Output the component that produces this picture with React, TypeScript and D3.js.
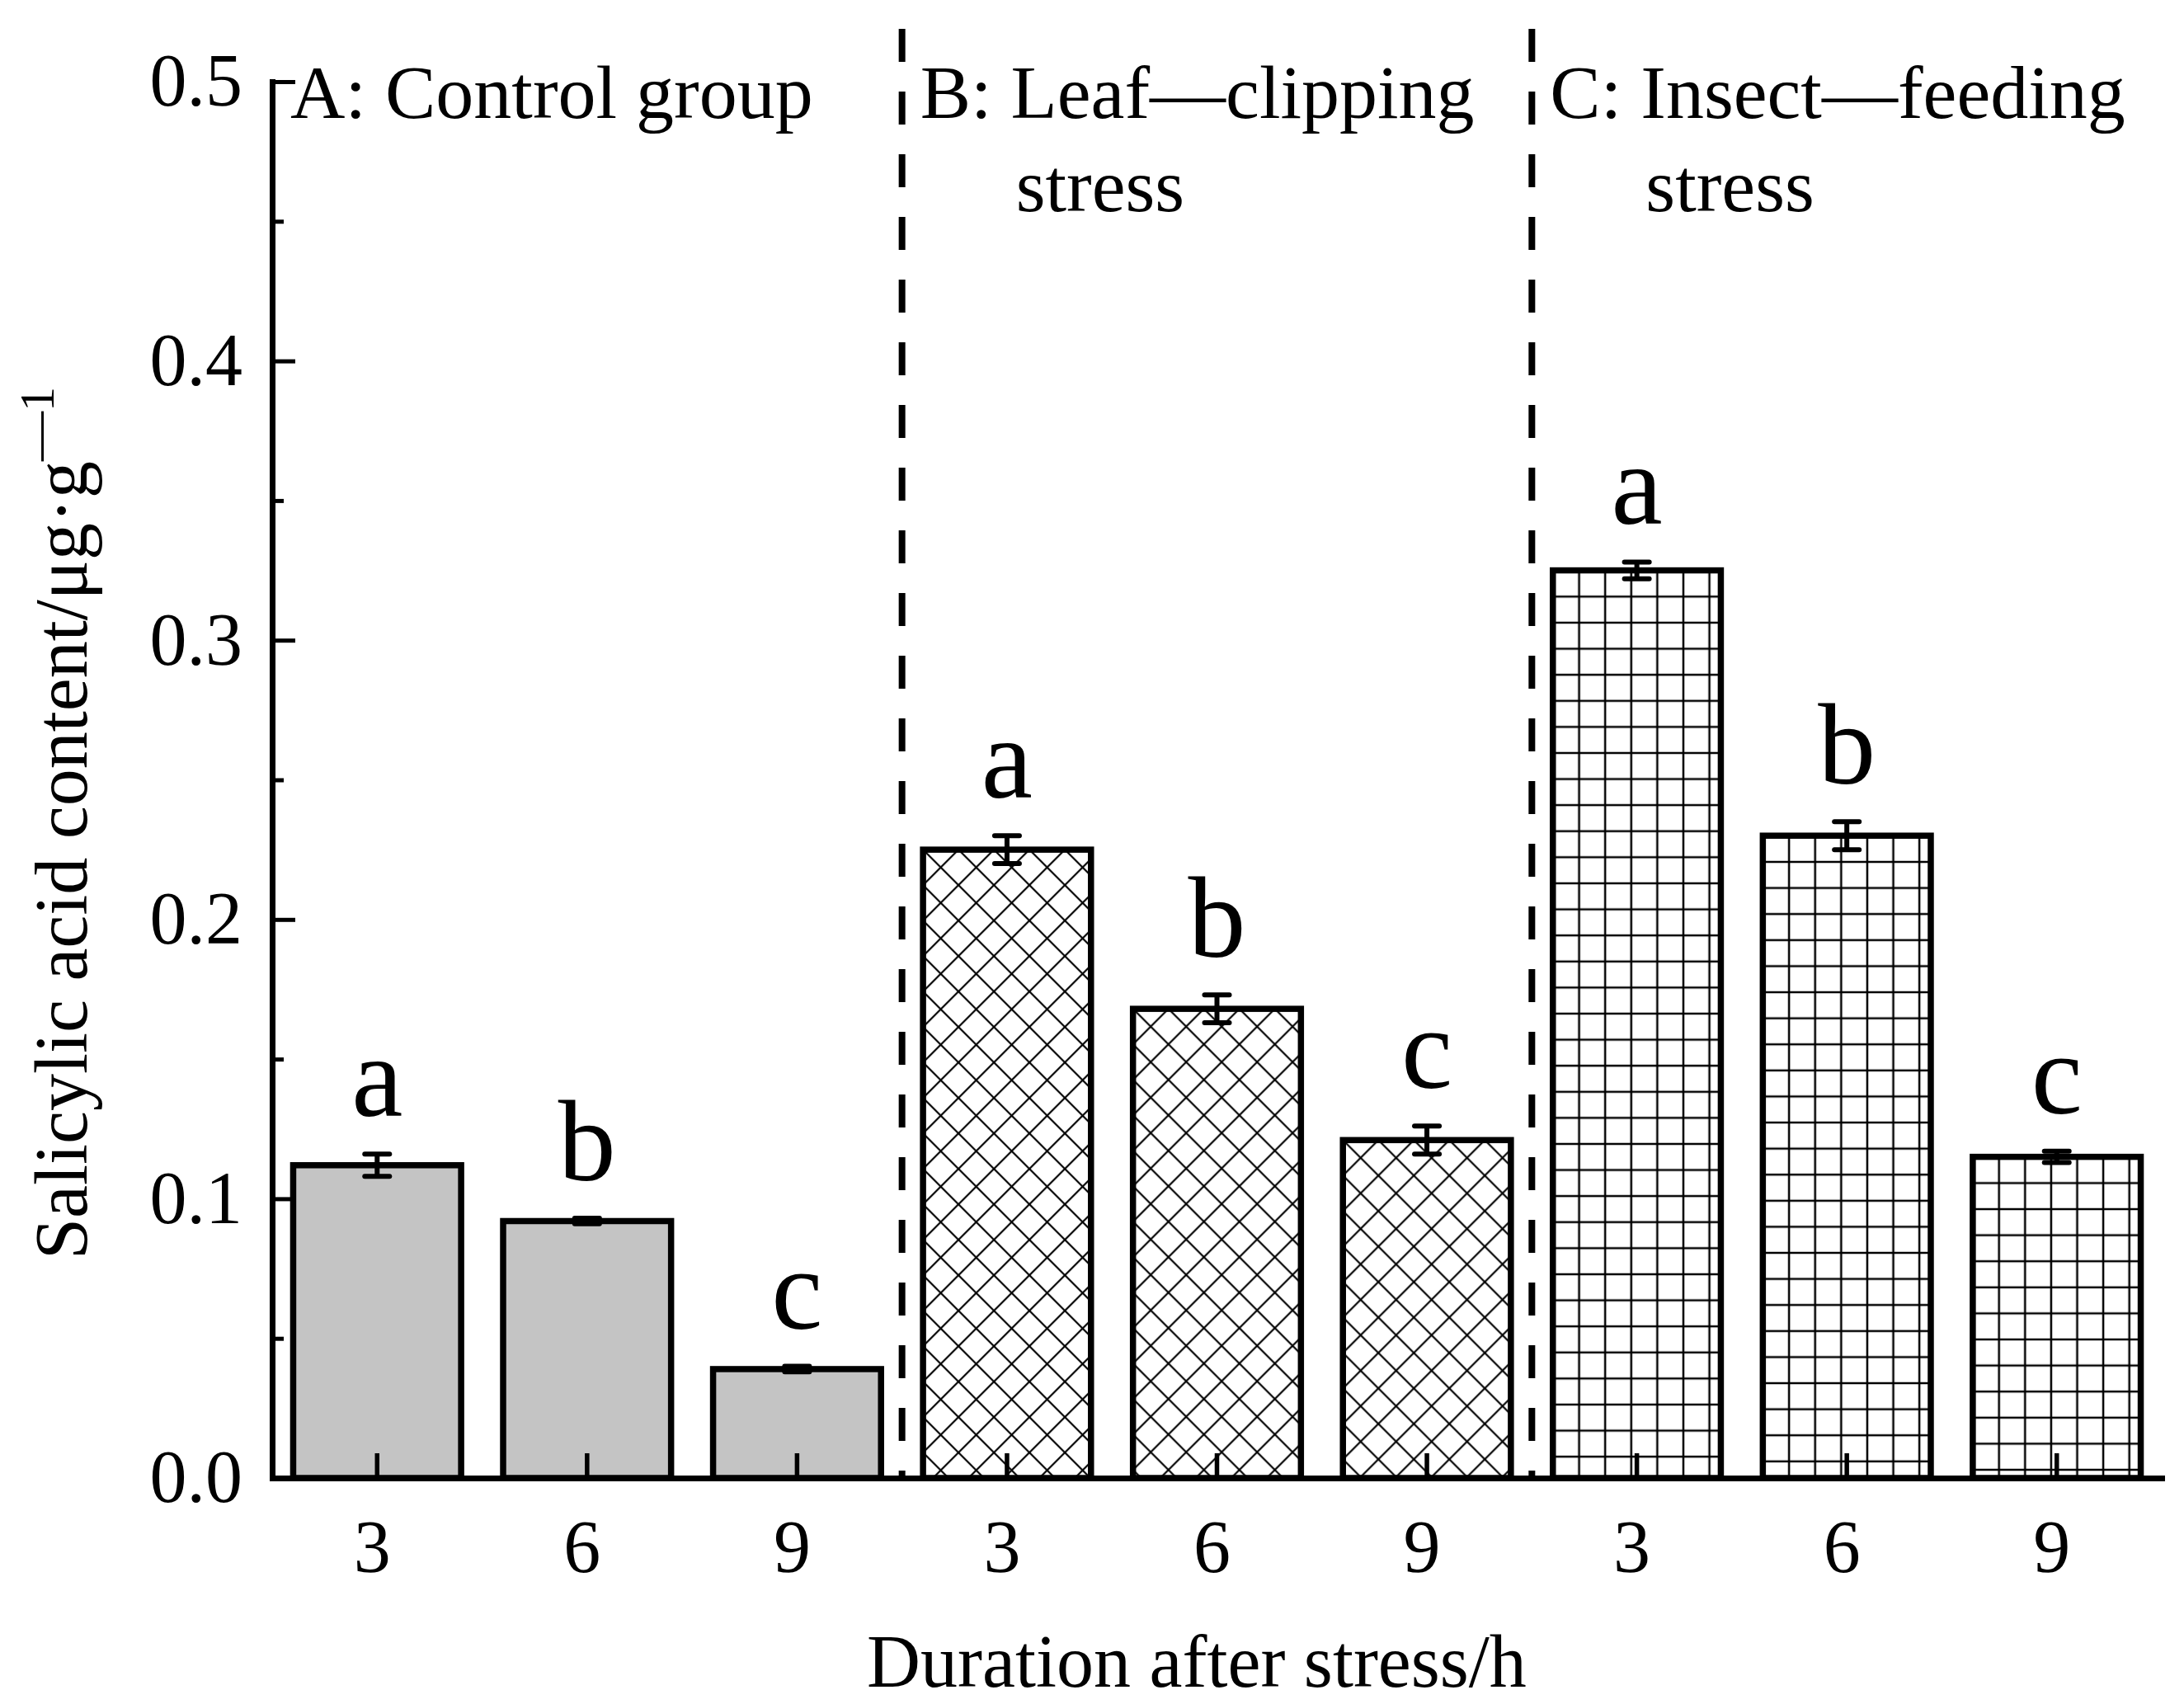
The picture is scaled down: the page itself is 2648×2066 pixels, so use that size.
import React, { useRef, useEffect } from 'react';
import * as d3 from 'd3';

// groups on the x axis and the sampling times inside each group
const groups = ['A', 'B', 'C'];
const hours = ['3', '6', '9'];

// salicylic acid content (µg·g-1)
const controlMeans = [0.112, 0.092, 0.039];
const controlErr = [0.004, 0.001, 0.001];
const clippingMeans = [0.225, 0.168, 0.121];
const clippingErr = [0.005, 0.005, 0.005];
const insectMeans = [0.325, 0.230, 0.115];
const insectErr = [0.003, 0.005, 0.002];

const letters = ['a', 'b', 'c'];
const groupTitles = [
  ['A: Control group'],
  ['B: Leaf\u2014clipping', 'stress'],
  ['C: Insect\u2014feeding', 'stress'],
];

const yMajorTicks = [0, 0.1, 0.2, 0.3, 0.4, 0.5];
const yMinorTicks = [0.05, 0.15, 0.25, 0.35, 0.45];

const W = 2648;
const H = 2066;
const FONT = '"Liberation Serif", "Times New Roman", Times, serif';

const App: React.FC = () => {
  const svgRef = useRef<SVGSVGElement | null>(null);

  useEffect(() => {
    const svg = d3.select(svgRef.current);
    svg.selectAll('*').remove();

    const x0 = 330, x1 = 2621, yBase = 1792, yTop = 99;

    const means = [controlMeans, clippingMeans, insectMeans];
    const errs = [controlErr, clippingErr, insectErr];
    const rows = groups.flatMap((g, gi) =>
      hours.map((h, hi) => ({
        key: `${g}${h}`,
        group: gi,
        hour: h,
        mean: means[gi][hi],
        err: errs[gi][hi],
        letter: letters[hi],
      }))
    );

    const x = d3.scaleBand()
      .domain(rows.map(d => d.key))
      .range([x0, x1])
      .paddingInner(0.2)
      .paddingOuter(0.1);

    const y = d3.scaleLinear().domain([0, 0.5]).range([yBase, yTop]);

    svg.append('rect').attr('width', W).attr('height', H).attr('fill', '#fff');

    // fill patterns, one per bar so each starts at the bar's corner
    const defs = svg.append('defs');
    rows.forEach((d, i) => {
      const bx = x(d.key) as number;
      const by = y(d.mean);
      if (d.group === 1) {
        const s = 43;
        const p = defs.append('pattern')
          .attr('id', `fill-${i}`)
          .attr('patternUnits', 'userSpaceOnUse')
          .attr('x', bx).attr('y', by)
          .attr('width', s).attr('height', s);
        p.append('rect').attr('width', s).attr('height', s).attr('fill', '#fff');
        p.append('path')
          .attr('d', `M0,0L${s},${s}M${s},0L0,${s}` +
            `M${s - 10},-10L${s + 10},10M-10,${s - 10}L10,${s + 10}` +
            `M-10,10L10,-10M${s - 10},${s + 10}L${s + 10},${s - 10}`)
          .attr('stroke', '#000').attr('stroke-width', 2.2).attr('fill', 'none');
      } else if (d.group === 2) {
        const s = 31.6;
        const p = defs.append('pattern')
          .attr('id', `fill-${i}`)
          .attr('patternUnits', 'userSpaceOnUse')
          .attr('x', bx + 16).attr('y', by + 16)
          .attr('width', s).attr('height', s);
        p.append('rect').attr('width', s).attr('height', s).attr('fill', '#fff');
        p.append('path')
          .attr('d', `M${s / 2},0V${s}M0,${s / 2}H${s}`)
          .attr('stroke', '#000').attr('stroke-width', 2.5).attr('fill', 'none');
      }
    });

    // bars
    svg.append('g')
      .selectAll('rect')
      .data(rows)
      .join('rect')
      .attr('x', d => x(d.key) as number)
      .attr('y', d => y(d.mean))
      .attr('width', x.bandwidth())
      .attr('height', d => yBase - y(d.mean))
      .attr('fill', (d, i) => (d.group === 0 ? '#c4c4c4' : `url(#fill-${i})`))
      .attr('stroke', '#000')
      .attr('stroke-width', 7.5);

    // x axis, ticks point inward
    const gx = svg.append('g')
      .attr('transform', `translate(0,${yBase})`)
      .call(
        d3.axisBottom(x)
          .tickSizeInner(-30)
          .tickSizeOuter(0)
          .tickPadding(50)
          .tickFormat(k => rows.find(r => r.key === k)!.hour)
      );
    gx.attr('font-size', 90).attr('font-family', FONT);
    gx.select('.domain').attr('stroke-width', 7).attr('stroke-linecap', 'square');
    gx.selectAll('.tick line').attr('stroke-width', 5.5);
    gx.selectAll('.tick text').attr('fill', '#000').attr('dx', -6);

    // y axis with minor ticks
    const gy = svg.append('g')
      .attr('transform', `translate(${x0},0)`)
      .call(
        d3.axisLeft(y)
          .tickValues(yMajorTicks)
          .tickSizeInner(-28)
          .tickSizeOuter(0)
          .tickPadding(36)
          .tickFormat(d3.format('.1f'))
      );
    gy.attr('font-size', 90).attr('font-family', FONT);
    gy.select('.domain').attr('stroke-width', 7).attr('stroke-linecap', 'square');
    gy.selectAll('.tick line').attr('stroke-width', 5);
    gy.selectAll('.tick text').attr('fill', '#000');

    const gyMinor = svg.append('g')
      .attr('transform', `translate(${x0},0)`)
      .call(
        d3.axisLeft(y)
          .tickValues(yMinorTicks)
          .tickSizeInner(-14)
          .tickSizeOuter(0)
          .tickFormat(() => '')
      );
    gyMinor.select('.domain').remove();
    gyMinor.selectAll('.tick line').attr('stroke-width', 5);

    // dashed separators between the groups
    const boundaries = groups.map((g, gi) =>
      gi === 0 ? x0 : (x(rows[gi * 3].key) as number) - (x.step() * x.paddingInner()) / 2
    );
    svg.append('g')
      .selectAll('line')
      .data(boundaries.slice(1))
      .join('line')
      .attr('x1', d => d).attr('x2', d => d)
      .attr('y1', 25).attr('y2', yBase)
      .attr('stroke', '#000')
      .attr('stroke-width', 8)
      .attr('stroke-dasharray', '40 36')
      .attr('stroke-dashoffset', 66);

    // error bars
    const eb = svg.append('g').attr('stroke', '#000').attr('stroke-width', 6);
    rows.forEach(d => {
      const cx = (x(d.key) as number) + x.bandwidth() / 2;
      const yHi = y(d.mean + d.err);
      const yLo = y(d.mean - d.err);
      eb.append('line').attr('x1', cx).attr('x2', cx).attr('y1', yHi).attr('y2', yLo);
      [yHi, yLo].forEach(yy => {
        eb.append('line')
          .attr('x1', cx - 15).attr('x2', cx + 15)
          .attr('y1', yy).attr('y2', yy)
          .attr('stroke-linecap', 'round');
      });
    });

    // significance letters
    svg.append('g')
      .selectAll('text')
      .data(rows)
      .join('text')
      .attr('x', d => (x(d.key) as number) + x.bandwidth() / 2)
      .attr('y', d => y(d.mean + d.err) - 46)
      .attr('text-anchor', 'middle')
      .attr('font-family', FONT)
      .attr('font-size', 140)
      .text(d => d.letter);

    // group titles
    groupTitles.forEach((lines, gi) => {
      const t = svg.append('text')
        .attr('font-family', FONT)
        .attr('font-size', 92)
        .attr('x', boundaries[gi] + 22)
        .attr('y', 143);
      lines.forEach((ln, li) => {
        t.append('tspan')
          .attr('x', boundaries[gi] + 22 + (li > 0 ? 116 : 0))
          .attr('y', 143 + li * 113)
          .text(ln);
      });
    });

    // axis titles
    svg.append('text')
      .attr('x', 1451)
      .attr('y', 2045)
      .attr('text-anchor', 'middle')
      .attr('font-family', FONT)
      .attr('font-size', 90)
      .text('Duration after stress/h');

    const yt = svg.append('text')
      .attr('transform', 'translate(105,1527) rotate(-90)')
      .attr('font-family', FONT)
      .attr('font-size', 90);
    yt.append('tspan').text('Salicylic acid content/\u03bcg\u00b7g');
    yt.append('tspan').attr('font-size', 60).attr('dy', -40).text('\u20141');
  }, []);

  return (
    <svg
      ref={svgRef}
      width={W}
      height={H}
      style={{ position: 'absolute', left: 0, top: 0 }}
    />
  );
};

export default App;
